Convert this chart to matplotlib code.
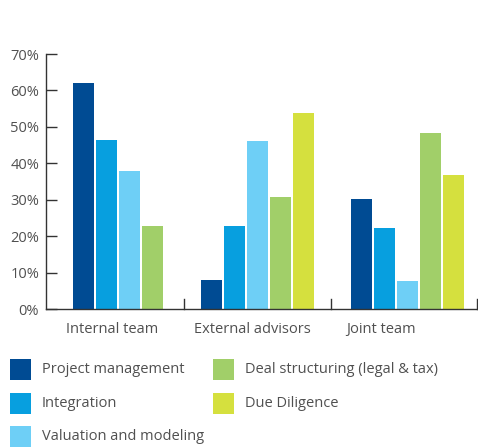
import matplotlib as mpl
mpl.use('Agg')
import matplotlib.pyplot as plt
from matplotlib.patches import Rectangle
import numpy as np

mpl.rc('font', family=['Open Sans', 'DejaVu Sans'], size=10.5)

categories = ['Internal team', 'External advisors', 'Joint team']
series = ['Project management', 'Integration', 'Valuation and modeling',
          'Deal structuring (legal & tax)', 'Due Diligence']
colors = ['#004b93', '#079fdf', '#6ecff6', '#a1cf69', '#d5e03e']
# None = no bar for that category
values = {
    'Project management':             [62.0, 8.0, 30.2],
    'Integration':                    [46.4, 22.8, 22.2],
    'Valuation and modeling':         [37.9, 46.1, 7.7],
    'Deal structuring (legal & tax)': [22.8, 30.7, 48.3],
    'Due Diligence':                  [None, 53.8, 36.8],
}

txt = '#505050'
fig = plt.figure(figsize=(4.78, 4.48), dpi=100)
ax = fig.add_axes([46/478, 1-309/448, 431/478, 255/448])

group_centers = [0.50, 1.472, 2.516]
label_pos = [0.463, 1.434, 2.335]
separators = [0.96, 1.985, 3.0]

bw = 0.146
step = 0.16
for ci, cat in enumerate(categories):
    present = [s for s in series if values[s][ci] is not None]
    n = len(present)
    for k, s in enumerate(present):
        x = group_centers[ci] + (k - (n-1)/2) * step
        ax.bar(x, values[s][ci], width=bw, color=colors[series.index(s)], linewidth=0)

ax.set_xlim(0, 3)
ax.set_ylim(0, 70)
ax.set_yticks(np.arange(0, 71, 10))
ax.set_yticklabels([f'{v}%' for v in range(0, 71, 10)], color=txt)
ax.tick_params(axis='y', direction='in', length=8, width=1, color='#333333', pad=5)
ax.set_xticks(label_pos)
ax.set_xticklabels(categories, color=txt)
ax.tick_params(axis='x', length=0, pad=9)
# separator ticks between categories
for xs in separators:
    ax.plot([xs, xs], [0, 2.8], color='#333333', lw=1, clip_on=False)
for sp in ['top', 'right']:
    ax.spines[sp].set_visible(False)
for sp in ['left', 'bottom']:
    ax.spines[sp].set_color('#333333')
    ax.spines[sp].set_linewidth(1)

# legend
col_x = [10, 213]
row_y = [369, 403, 436]
for i, s in enumerate(series):
    col = 0 if i < 3 else 1
    row = i if i < 3 else i - 3
    x0 = col_x[col]
    yc = row_y[row]
    fig.add_artist(Rectangle((x0/478, 1-(yc+10.5)/448), 21/478, 21/448,
                             transform=fig.transFigure, color=colors[i], lw=0))
    fig.text((x0+32)/478, 1-yc/448, s, ha='left', va='center', color=txt)

fig.savefig('out.png', dpi=100)
